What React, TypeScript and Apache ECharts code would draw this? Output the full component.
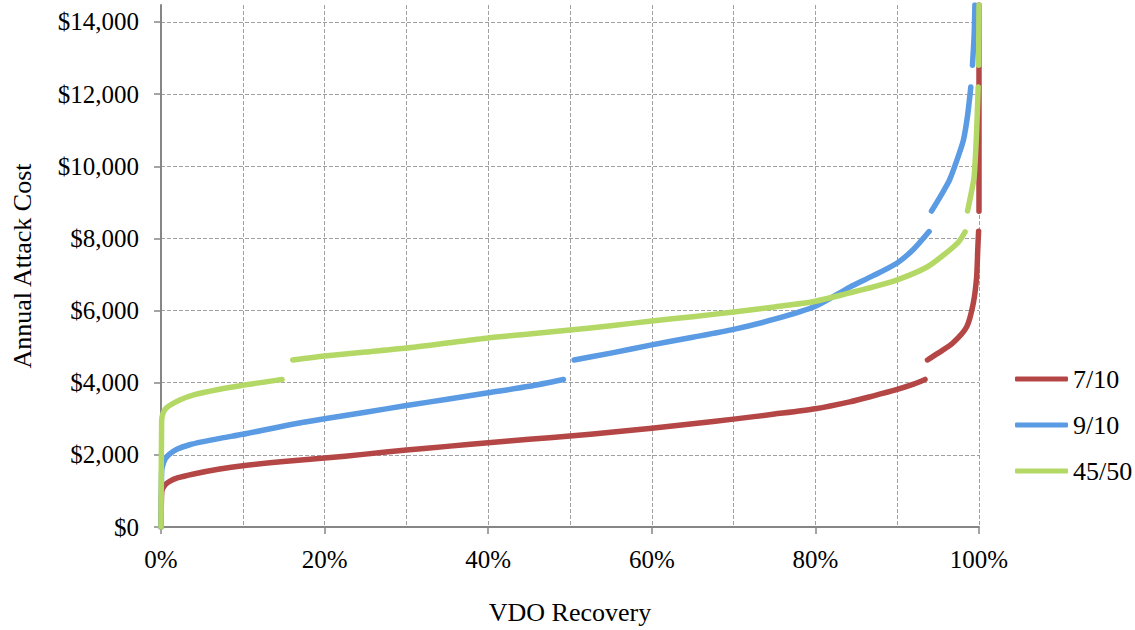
import React, { useEffect, useRef } from "react";
import * as echarts from "echarts";

const seriesNames = ["7/10", "9/10", "45/50"];
const seriesColors = ["#b54646", "#5a9be4", "#b4d865"];

// [recovery fraction, annual attack cost]; null marks a break in the curve
const red: (number | null)[][] = [
  [0, 0], [0.0008, 950], [0.002, 1060], [0.005, 1170], [0.01, 1260], [0.02, 1360],
  [0.04, 1470], [0.07, 1600], [0.1, 1700], [0.15, 1815], [0.2, 1910], [0.25, 2020],
  [0.3, 2135], [0.35, 2235], [0.4, 2335], [0.45, 2430], [0.5, 2520], [0.55, 2625],
  [0.6, 2740], [0.65, 2860], [0.7, 2990], [0.75, 3130], [0.8, 3280], [0.842, 3470],
  [0.87, 3630], [0.898, 3800], [0.92, 3960], [0.934, 4090], [0.935, null],
  [0.937, 4630], [0.95, 4820], [0.968, 5100], [0.985, 5550], [0.993, 6200],
  [0.997, 6900], [0.9985, 7700], [0.9995, 8200], [0.9997, null],
  [1.0, 8750], [1.0, 14470],
];

const blue: (number | null)[][] = [
  [0, 0], [0.0008, 1550], [0.002, 1700], [0.005, 1880], [0.01, 2010], [0.02, 2160],
  [0.035, 2280], [0.05, 2360], [0.075, 2470], [0.1, 2570], [0.15, 2800], [0.2, 3000],
  [0.25, 3180], [0.3, 3370], [0.35, 3540], [0.4, 3720], [0.45, 3900], [0.492, 4090], [0.5, null],
  [0.505, 4630], [0.55, 4820], [0.6, 5050], [0.65, 5260], [0.7, 5480], [0.75, 5760],
  [0.8, 6120], [0.842, 6650], [0.87, 6960], [0.9, 7320], [0.92, 7700], [0.939, 8190], [0.94, null],
  [0.942, 8760], [0.955, 9250], [0.964, 9620], [0.975, 10300], [0.981, 10730], [0.986, 11400],
  [0.99, 12200], [0.991, null],
  [0.992, 12800], [0.994, 13600], [0.995, 14470],
];

const green: (number | null)[][] = [
  [0, 0], [0.0008, 2950], [0.002, 3120], [0.005, 3260], [0.01, 3360], [0.023, 3520],
  [0.04, 3660], [0.07, 3810], [0.1, 3930], [0.13, 4030], [0.148, 4090], [0.15, null],
  [0.161, 4630], [0.2, 4740], [0.25, 4850], [0.3, 4960], [0.35, 5100], [0.4, 5240],
  [0.45, 5350], [0.5, 5460], [0.55, 5580], [0.6, 5710], [0.65, 5830], [0.7, 5960],
  [0.75, 6100], [0.8, 6260], [0.842, 6490], [0.87, 6650], [0.9, 6850], [0.936, 7200],
  [0.96, 7600], [0.975, 7900], [0.983, 8180], [0.984, null],
  [0.986, 8760], [0.99, 9200], [0.994, 9700], [0.997, 10920], [0.999, 12200], [0.9992, null],
  [0.9995, 12800], [1.0, 14470],
];

const seriesData = [red, blue, green];

const xTickStep = 0.2;
const yTickStep = 2000;
const yMax = 14470;

const FONT = "'Liberation Serif', 'Times New Roman', serif";

export default function App() {
  const ref = useRef<HTMLDivElement>(null);
  useEffect(() => {
    if (!ref.current) return;
    const chart = echarts.init(ref.current, undefined, { renderer: "svg" });
    const gridLine = { color: "#a0a0a0", width: 1, type: [4, 2] as number[] };
    chart.setOption({
      animation: false,
      backgroundColor: "#ffffff",
      textStyle: { fontFamily: FONT },
      grid: { left: 161, right: 156, top: 5, bottom: 103, containLabel: false },
      legend: {
        orient: "vertical",
        left: 1010,
        top: 361,
        itemGap: 20,
        itemWidth: 53,
        itemHeight: 5,
        icon: "roundRect",
        textStyle: { fontFamily: FONT, fontSize: 26, color: "#000" },
        data: seriesNames,
      },
      xAxis: {
        type: "value",
        min: 0,
        max: 1,
        interval: xTickStep,
        name: "VDO Recovery",
        nameLocation: "middle",
        nameGap: 72,
        nameTextStyle: { fontFamily: FONT, fontSize: 26, color: "#000" },
        axisLine: { show: true, lineStyle: { color: "#868686", width: 2 } },
        axisTick: { show: true, length: 7, lineStyle: { color: "#868686", width: 1.5 } },
        axisLabel: {
          margin: 20,
          fontFamily: FONT,
          fontSize: 25,
          color: "#000",
          formatter: (v: number) => `${Math.round(v * 100)}%`,
        },
        splitLine: { show: true, showMinLine: false, lineStyle: gridLine },
        minorTick: { show: false, splitNumber: 2 },
        minorSplitLine: { show: true, lineStyle: gridLine },
      },
      yAxis: {
        type: "value",
        min: 0,
        max: yMax,
        interval: yTickStep,
        name: "Annual Attack Cost",
        nameLocation: "middle",
        nameGap: 126,
        nameTextStyle: { fontFamily: FONT, fontSize: 26, color: "#000" },
        axisLine: { show: true, lineStyle: { color: "#868686", width: 2 } },
        axisTick: { show: true, length: 7, lineStyle: { color: "#868686", width: 1.5 } },
        axisLabel: {
          margin: 22,
          fontFamily: FONT,
          fontSize: 25,
          color: "#000",
          showMaxLabel: false,
          formatter: (v: number) => (v % yTickStep === 0 ? "$" + v.toLocaleString("en-US") : ""),
        },
        splitLine: { show: true, showMinLine: false, showMaxLine: false, lineStyle: gridLine },
      },
      series: seriesNames.map((name, i) => ({
        name,
        type: "line",
        data: seriesData[i],
        showSymbol: false,
        symbol: "none",
        connectNulls: false,
        smooth: 0.25,
        color: seriesColors[i],
        lineStyle: { color: seriesColors[i], width: 5.5, cap: "round", join: "round" },
        z: 2 + i,
      })),
    });
    return () => chart.dispose();
  }, []);
  return (
    <div
      ref={ref}
      style={{ position: "absolute", left: 0, top: 0, width: 1135, height: 630 }}
    />
  );
}
